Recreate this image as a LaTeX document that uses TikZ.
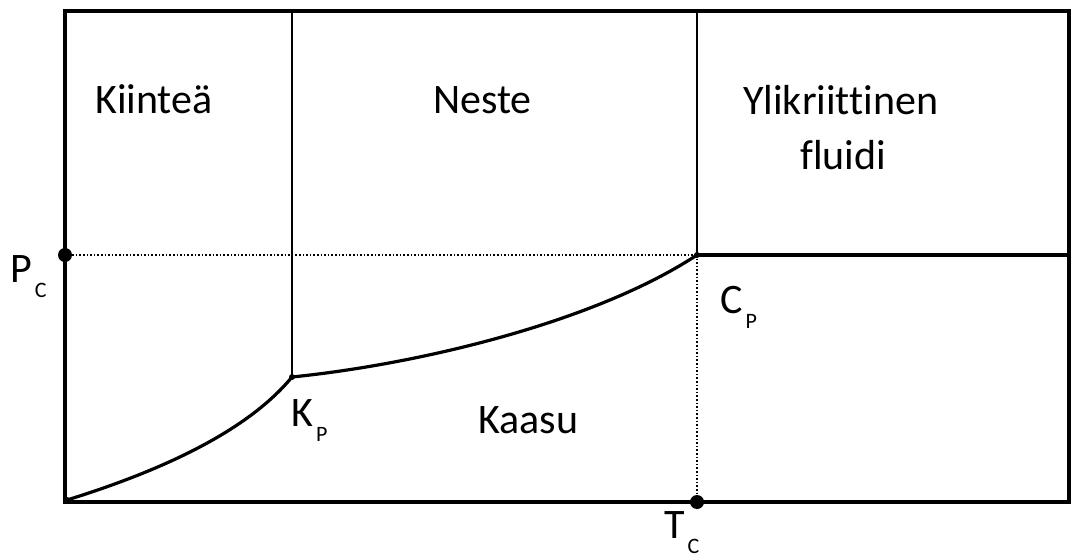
\documentclass[tikz,border=0pt]{standalone}
\usepackage{fontspec}
\setmainfont[Ligatures=NoCommon]{Carlito}
\usepackage{tikz}

\newcommand{\phaselbl}[2]{#1\kern3pt{\fontsize{22}{22}\selectfont\raisebox{-15pt}{#2}}}

\begin{document}
\begin{tikzpicture}[x=1pt, y=-1pt, font=\fontsize{42}{46}\selectfont,
	frame/.style={line width=3.5pt},
	border/.style={line width=2pt},
	curve/.style={line width=3.2pt},
	guide/.style={line width=1.6pt, dotted},
	bigdot/.style={fill=black},
	lbl/.style={anchor=base west, inner sep=0pt}]
\useasboundingbox (0,0) rectangle (1071,559);

% corner and phase points
\coordinate (O) at (67,500);
\coordinate (Kp) at (292,377);
\coordinate (Cp) at (697,255);
\coordinate (Pc) at (65,255);
\coordinate (Tc) at (697,502);
\coordinate (Kt) at (292,11);
\coordinate (Ct) at (697,11);
\coordinate (E) at (1069,255);

\draw [frame] (65,11) rectangle (1069,502);

\draw [border] (Kt) -- (Kp);
\draw [border] (Ct) -- (Cp);
\draw [curve] (Cp) -- (E);

\draw [guide] (Pc) -- (Cp);
\draw [guide] (Cp) -- (Tc);

\draw [curve] (O) .. controls (170,468) and (250,428) .. (Kp);
\draw [curve] (Kp) .. controls (420,364) and (595,322) .. (Cp);

\foreach \p in {O,Kp,Cp,E}
	\fill (\p) circle (3);
\foreach \p in {Pc,Tc}
	\fill [bigdot] (\p) circle (7);

\foreach \x/\y/\name/\txt in {
		95/114/kiintea/Kiinteä,
		433/114/neste/Neste,
		743/115/yli/Ylikriittinen,
		800/170/fluidi/fluidi,
		478/433/kaasu/Kaasu
	}
	{
		\node [lbl] (\name) at (\x,\y) {\txt};
	}

\node [lbl] (pclbl) at (10,282) {\phaselbl{P}{C}};
\node [lbl] (kplbl) at (291,426) {\phaselbl{K}{P}};
\node [lbl] (cplbl) at (720,313) {\phaselbl{C}{P}};
\node [lbl] (tclbl) at (664,538) {\phaselbl{T}{C}};

\end{tikzpicture}
\end{document}
